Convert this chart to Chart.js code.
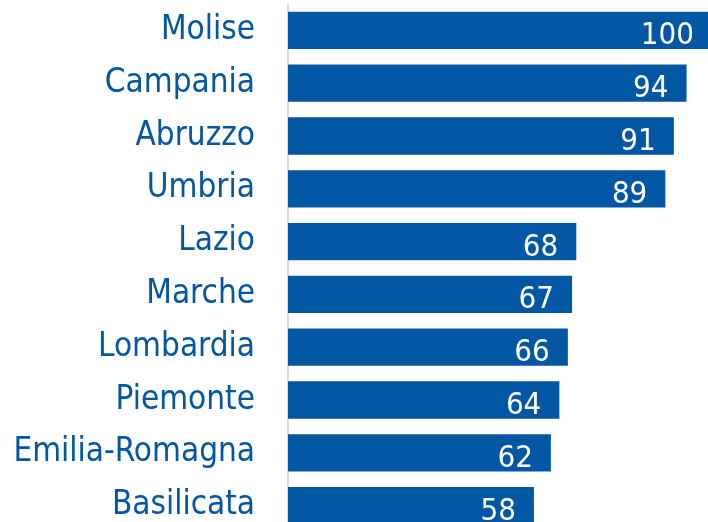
<!DOCTYPE html>
<html>
<head>
<meta charset="utf-8">
<script src="https://cdn.jsdelivr.net/npm/chart.js@4"></script>
<style>
html,body{margin:0;padding:0;background:#fff;overflow:hidden;}
#wrap{width:708px;height:522px;overflow:hidden;position:relative;}
canvas{display:block;}
</style>
</head>
<body>
<div id="wrap"><canvas id="c" width="712" height="532"></canvas></div>
<script>
const regions = ["Molise","Campania","Abruzzo","Umbria","Lazio","Marche","Lombardia","Piemonte","Emilia-Romagna","Basilicata"];
const values = [100,94,91,89,68,67,66,64,62,58];

const BLUE = '#0257a5';
const FONT = "'DejaVu Sans Condensed', Roboto, sans-serif";

const valueLabels = {
  id: 'valueLabels',
  afterDatasetsDraw(chart) {
    const ctx = chart.ctx;
    const meta = chart.getDatasetMeta(0);
    ctx.save();
    ctx.fillStyle = '#ffffff';
    ctx.font = '31px ' + FONT;
    ctx.textAlign = 'right';
    ctx.textBaseline = 'alphabetic';
    meta.data.forEach((bar, i) => {
      ctx.fillText(String(values[i]), bar.x - 18, bar.y + 14);
    });
    ctx.restore();
  }
};

new Chart(document.getElementById('c'), {
  type: 'bar',
  data: {
    labels: regions,
    datasets: [{
      data: values,
      backgroundColor: BLUE,
      borderWidth: 0,
      categoryPercentage: 1,
      barPercentage: 0.706
    }]
  },
  options: {
    indexAxis: 'y',
    responsive: false,
    animation: false,
    layout: { padding: { top: 4, right: 0, bottom: 0, left: 0 } },
    plugins: { legend: { display: false }, tooltip: { enabled: false } },
    scales: {
      x: { display: false, min: 0, max: 100 },
      y: {
        afterFit(scale) {
          scale.width = 288;
          scale.paddingTop = 0;
          scale.paddingBottom = 0;
        },
        grid: { display: false, drawTicks: false },
        border: { display: true, color: '#dcdcdc', width: 2 },
        ticks: {
          color: BLUE,
          padding: 33,
          font: { family: FONT, size: 33 }
        }
      }
    }
  },
  plugins: [valueLabels]
});
</script>
</body>
</html>
